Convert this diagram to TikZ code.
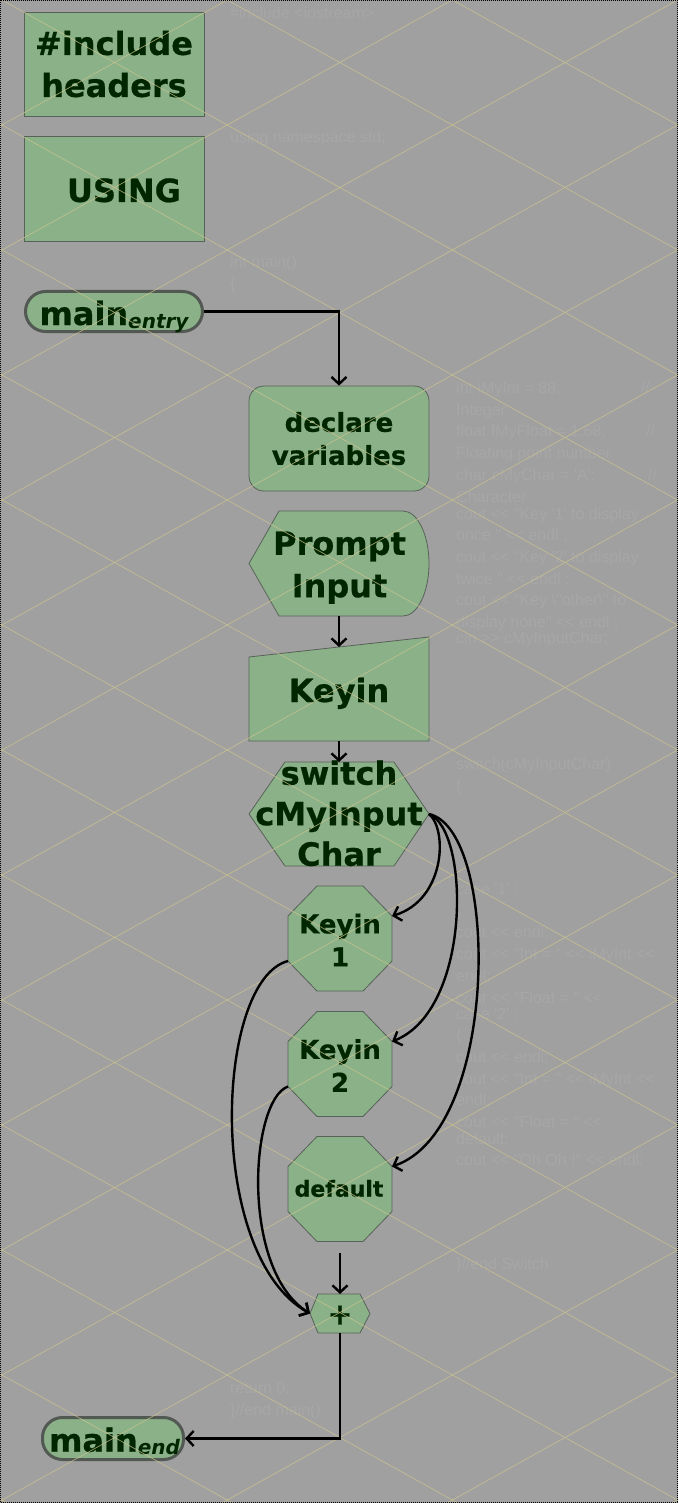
\documentclass[tikz,border=0pt]{standalone}
\usepackage{fontspec}
\setmainfont{DejaVu Sans}[BoldFeatures={FakeBold=0.6}]
\newfontfamily\ghostfont{Liberation Sans}
\usetikzlibrary{arrows.meta,calc}
\definecolor{bggray}{RGB}{160,160,160}
\definecolor{nodegreen}{RGB}{139,177,137}
\definecolor{nodeborder}{RGB}{88,98,88}
\definecolor{termborder}{RGB}{82,88,82}
\definecolor{txtgreen}{RGB}{0,38,0}
\definecolor{latcol}{RGB}{206,197,142}
\definecolor{ghostc}{RGB}{167,167,167}
\newcommand{\octpath}[1]{%
  \path[outl] ($(#1.north west)+(29,0)$) -- ($(#1.north east)+(-29,0)$) -- ($(#1.north east)+(0,30)$) -- ($(#1.south east)+(0,-30)$) -- ($(#1.south east)+(-29,0)$) -- ($(#1.south west)+(29,0)$) -- ($(#1.south west)+(0,-30)$) -- ($(#1.north west)+(0,30)$) -- cycle;}
\begin{document}
\begin{tikzpicture}[x=1pt,y=-1pt,
  boxshape/.style={draw=nodeborder, fill=nodegreen, line width=0.8pt, inner sep=0pt},
  termshape/.style={draw=termborder, fill=nodegreen, line width=3pt, inner sep=0pt, rounded corners=20pt},
  sizer/.style={draw=none, inner sep=0pt, outer sep=0pt},
  outl/.style={fill=nodegreen, draw=nodeborder, line width=0.8pt},
  lbl/.style={text=txtgreen, align=center, inner sep=0pt},
  conn/.style={draw=black, line width=2.4pt, -{Straight Barb[length=7pt,width=15pt]}},
  lat/.style={draw=latcol, line width=0.7pt, opacity=0.75},
  ghost/.style={text=ghostc, font=\ghostfont\fontsize{16}{20}\selectfont, anchor=base west, inner sep=0pt}]
\useasboundingbox (0,0) rectangle (678,1503);
\fill[bggray] (0,0) rectangle (678,1503);

% faint code text
\node[ghost] (g1) at (230,19) {\#include <iostream>};
\node[ghost] (g2) at (230,143) {using namespace std;};
\node[ghost] (g3) at (230,268) {int main()};
\node[ghost] (g4) at (230,290) {\{};
\foreach \t [count=\i from 0] in {{int iMyInt = 88;\hspace{80pt}//},{Integer},{float fMyFloat = 1.68;\hspace{40pt}//},{Floating point number},{char cMyChar = 'A';\hspace{53pt}//},{Character}}
  \node[ghost] (ga\i) at (456,393.5+21.7*\i) {\t};
\foreach \t [count=\i from 0] in {{cout << "Key '1' to display},{once " << endl ;},{cout << "Key '2' to display},{twice " << endl ;},{cout << "Key \textbackslash"other\textbackslash" to},{display none" << endl ;}}
  \node[ghost] (gb\i) at (456,519+21.7*\i) {\t};
\node[ghost] (gc) at (456,643.5) {cin >> cMyInputChar;};
\node[ghost] (gd1) at (456,769) {switch(cMyInputChar)};
\node[ghost] (gd2) at (456,791) {\{};
\foreach \t [count=\i from 0] in {{case '1' :},{\{},{cout << endl;},{cout << "Int = " << iMyInt <<},{endl;},{cout << "Float = " <<}}
  \node[ghost] (ge\i) at (456,894+21.8*\i) {\t};
\foreach \t [count=\i from 0] in {{case '2' :},{\{},{cout << endl;},{cout << "Int = " << iMyInt <<},{endl;},{cout << "Float = " <<}}
  \node[ghost] (gf\i) at (456,1019+21.7*\i) {\t};
\node[ghost] (gg1) at (456,1144) {default:};
\node[ghost] (gg2) at (456,1165.5) {cout << "Oh Oh !" << endl;};
\node[ghost] (gh) at (456,1269) {\}//end Switch};
\node[ghost] (gi1) at (230,1393.5) {return 0;};
\node[ghost] (gi2) at (230,1415.5) {\}//end main()};

% shapes
\node[boxshape, minimum width=180pt, minimum height=104pt] (inc) at (114,64) {};
\node[boxshape, minimum width=180pt, minimum height=105pt] (us) at (114,188.5) {};
\node[termshape, minimum width=177pt, minimum height=40pt] (me) at (114,311.5) {};
\node[boxshape, rounded corners=15pt, minimum width=180pt, minimum height=105pt] (dv) at (339,438.5) {};
\node[sizer, minimum width=180pt, minimum height=105pt] (pi) at (339,563.5) {};
\node[sizer, minimum width=180pt, minimum height=94pt] (ki) at (339,694) {};
\node[sizer, minimum width=180pt, minimum height=104pt] (sw) at (339,814) {};
\node[sizer, minimum width=104pt, minimum height=105pt] (k1) at (340,938.5) {};
\node[sizer, minimum width=104pt, minimum height=105pt] (k2) at (340,1064) {};
\node[sizer, minimum width=104pt, minimum height=105pt] (df) at (340,1189) {};
\node[sizer, minimum width=60pt, minimum height=39pt] (pl) at (340,1313.5) {};
\node[termshape, minimum width=141pt, minimum height=42pt] (mend) at (113,1438.5) {};

\path[outl] (pi.west) -- ($(pi.north west)+(30,0)$) -- ($(pi.north east)+(-26,0)$)
  .. controls ($(pi.north east)+(-11.6,0)$) and ($(pi.east)+(0,-29)$) .. (pi.east)
  .. controls ($(pi.east)+(0,29)$) and ($(pi.south east)+(-11.6,0)$) .. ($(pi.south east)+(-26,0)$)
  -- ($(pi.south west)+(30,0)$) -- cycle;
\path[outl] ($(ki.north west)+(0,10)$) -- ($(ki.north east)+(0,-10)$) -- (ki.south east) -- (ki.south west) -- cycle;
\path[outl] (sw.west) -- ($(sw.north west)+(36,0)$) -- ($(sw.north east)+(-35,0)$) -- (sw.east) -- ($(sw.south east)+(-35,0)$) -- ($(sw.south west)+(36,0)$) -- cycle;
\octpath{k1}
\octpath{k2}
\octpath{df}
\path[outl] (pl.west) -- ($(pl.north west)+(8,0)$) -- ($(pl.north east)+(-10,0)$) -- (pl.east) -- ($(pl.south east)+(-10,0)$) -- ($(pl.south west)+(8,0)$) -- cycle;

% labels
\node[lbl, font=\bfseries\fontsize{32}{42}\selectfont] (tinc) at (114,64) {\#include\\headers};
\node[lbl, font=\bfseries\fontsize{32}{42}\selectfont, anchor=base] (tus) at (124,202) {USING};
\node[lbl, font=\bfseries\fontsize{32}{42}\selectfont, anchor=base] (tme) at (114,325) {main\raisebox{-3pt}{\fontsize{20}{20}\selectfont\itshape entry}};
\node[lbl, font=\bfseries\fontsize{26}{33}\selectfont] (tdv) at (339,438.6) {declare\\variables};
\node[lbl, font=\bfseries\fontsize{32}{42.4}\selectfont] (tpi) at (339.5,567.7) {Prompt\\Input};
\node[lbl, font=\bfseries\fontsize{32}{42}\selectfont, anchor=base] (tki) at (339,702) {Keyin};
\node[lbl, font=\bfseries\fontsize{32}{40.5}\selectfont] (tsw) at (339,813.3) {switch\\cMyInput\\Char};
\node[lbl, font=\bfseries\fontsize{26}{33}\selectfont] (tk1) at (340,940) {Keyin\\1};
\node[lbl, font=\bfseries\fontsize{26}{33}\selectfont] (tk2) at (340,1065.5) {Keyin\\2};
\node[lbl, font=\bfseries\fontsize{22}{26}\selectfont, anchor=base] (tdf) at (339,1196.7) {default};
\node[lbl, font=\bfseries\fontsize{30}{30}\selectfont] (tpl) at (340,1315) {+};
\node[lbl, font=\bfseries\fontsize{32}{42}\selectfont, anchor=base] (tmend) at (114.5,1451.7) {main\raisebox{-3pt}{\fontsize{20}{20}\selectfont\itshape end}};

% background lattice
\begin{scope}
\clip (0,0) rectangle (678,1503);
\foreach \k in {-13,...,4} \draw[lat] (2+225.2*\k,0) -- ++(2815,1562.5);
\foreach \k in {0,...,16} \draw[lat] (2+225.2*\k,0) -- ++(-2815,1562.5);
\end{scope}

% connectors
\draw[conn] (me.east) -| (dv.north);
\draw[conn] (pi.south) -- (ki.north);
\draw[conn] (ki.south) -- (sw.north);
\draw[conn] (sw.east) .. controls (448,830) and (445,900) .. ($(k1.north east)+(0,30)$);
\draw[conn] (sw.east) .. controls (470,830) and (472,1010) .. ($(k2.north east)+(0,30)$);
\draw[conn] (sw.east) .. controls (500,830) and (500,1130) .. ($(df.north east)+(0,30)$);
\draw[conn] ($(k1.south west)+(0,-30)$) .. controls (215,980) and (205,1255) .. (pl.west);
\draw[conn] ($(k2.south west)+(0,-30)$) .. controls (250,1100) and (240,1270) .. (pl.west);
\draw[conn, shorten <=11pt] (df.south) -- (pl.north);
\draw[conn] (pl.south) |- (mend.east);

% dotted frame
\draw[black, line width=1pt, dash pattern=on 1pt off 1pt] (0.5,0.5) rectangle (677.5,1502.5);
\end{tikzpicture}
\end{document}
